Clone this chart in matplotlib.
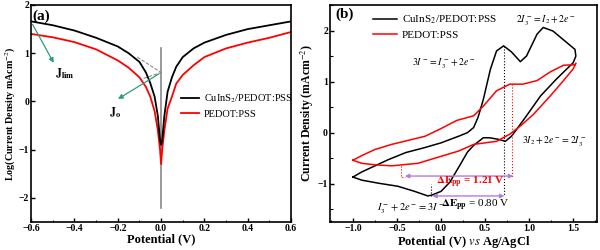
import numpy as np
import matplotlib
matplotlib.use("Agg")
import matplotlib.pyplot as plt
from matplotlib.ticker import MultipleLocator

plt.rcParams['font.family'] = ['Liberation Serif', 'DejaVu Serif']
plt.rcParams['mathtext.fontset'] = 'stix'

# ---- panel (a): Tafel curves ----
tafel_x = [-0.6, -0.5, -0.4, -0.3, -0.2, -0.15, -0.1, -0.07, -0.05, -0.03, -0.015, -0.005, 0.0,
           0.005, 0.015, 0.03, 0.05, 0.07, 0.1, 0.15, 0.2, 0.3, 0.4, 0.5, 0.6]
tafel_cuins = [1.66, 1.58, 1.47, 1.32, 1.14, 1.0, 0.82, 0.6, 0.38, 0.1, -0.3, -0.8, -0.9,
               -0.8, -0.3, 0.2, 0.5, 0.72, 0.92, 1.1, 1.22, 1.38, 1.5, 1.58, 1.66]
tafel_pedot = [1.4, 1.33, 1.23, 1.08, 0.85, 0.7, 0.5, 0.3, 0.1, -0.2, -0.6, -1.0, -1.3,
               -1.0, -0.6, -0.15, 0.1, 0.37, 0.55, 0.75, 0.92, 1.1, 1.22, 1.32, 1.44]
vert_x = [0.0, 0.0]
vert_y = [1.1, -2.2]
tangent1_x = [-0.11, 0.0]
tangent1_y = [0.92, 0.6]
tangent2_x = [-0.08, 0.0]
tangent2_y = [0.48, 0.6]

# ---- panel (b): cyclic voltammograms ----
cv_cuins_x = [-1.0, -0.9, -0.75, -0.6, -0.4, -0.2, 0.0, 0.2, 0.3, 0.37, 0.42, 0.48, 0.56, 0.63,
              0.71, 0.8, 0.9, 0.97, 1.09, 1.16, 1.27, 1.43, 1.52, 1.53,
              1.5, 1.31, 1.13, 0.97, 0.86, 0.8, 0.73, 0.65, 0.55, 0.48, 0.37, 0.3, 0.22, 0.1,
              0.0, -0.1, -0.15, -0.3, -0.49, -0.71, -0.9, -1.0]
cv_cuins_y = [-0.87, -0.77, -0.65, -0.53, -0.39, -0.3, -0.2, -0.07, 0.0, 0.1, 0.3, 0.65, 1.24, 1.6,
              1.7, 1.58, 1.39, 1.5, 1.93, 2.06, 1.99, 1.76, 1.63, 1.5,
              1.37, 1.05, 0.72, 0.33, 0.07, -0.07, -0.17, -0.13, -0.1, -0.1, -0.25, -0.38, -0.62, -0.97,
              -1.15, -1.22, -1.24, -1.15, -1.05, -0.99, -0.93, -0.87]
cv_pedot_x = [-1.0, -0.9, -0.75, -0.56, -0.37, -0.18, 0.0, 0.18, 0.37, 0.48, 0.63, 0.78, 0.93,
              1.09, 1.24, 1.39, 1.52, 1.53, 1.5, 1.39, 1.24, 1.05, 0.9, 0.78, 0.63, 0.37, 0.2,
              -0.07, -0.26, -0.56, -0.75, -0.9, -1.0]
cv_pedot_y = [-0.54, -0.45, -0.33, -0.23, -0.15, -0.07, 0.08, 0.24, 0.33, 0.52, 0.82, 0.95, 0.95,
              1.02, 1.19, 1.32, 1.33, 1.36, 1.25, 1.02, 0.72, 0.36, 0.13, -0.03, -0.17, -0.23, -0.36,
              -0.5, -0.6, -0.65, -0.63, -0.6, -0.54]

# peak markers
black_ox_x = [0.72, 0.72]
black_ox_y = [1.7, -1.24]
black_red_x = [-0.11, -0.11]
black_red_y = [-1.24, -1.0]
red_ox_x = [0.81, 0.81]
red_ox_y = [0.95, -0.86]
red_red_x = [-0.45, -0.45, -0.41]
red_red_y = [-0.65, -0.86, -0.86]
dE_red = (-0.41, 0.82, -0.85)
dE_black = (-0.1, 0.72, -1.24)

purple = '#b57be0'
green = '#2e9c82'
bold = dict(fontweight='bold')

fig = plt.figure(figsize=(6, 2.5), dpi=100)
ax1 = fig.add_axes([0.052, 0.112, 0.433, 0.868])
ax2 = fig.add_axes([0.55, 0.112, 0.445, 0.868])

# ---------- (a) ----------
ax1.plot(vert_x, vert_y, color='#888888', lw=1.2, zorder=1)
ax1.plot(tafel_x, tafel_cuins, color='black', lw=1.3, label='CuInS$_2$/PEDOT:PSS', zorder=3)
ax1.plot(tafel_x, tafel_pedot, color='red', lw=1.3, label='PEDOT:PSS', zorder=2)
ax1.plot(tangent1_x, tangent1_y, color='gray', lw=0.7, ls='--')
ax1.plot(tangent2_x, tangent2_y, color='gray', lw=0.7, ls='--')
ax1.annotate('', xy=(-0.21, 0.02), xytext=(0.0, 0.6),
             arrowprops=dict(arrowstyle='-|>', color=green, lw=0.9, mutation_scale=7))
ax1.annotate('', xy=(-0.49, 0.75), xytext=(-0.6, 1.65),
             arrowprops=dict(arrowstyle='-|>', color=green, lw=0.9, mutation_scale=7))
ax1.text(-0.24, -0.3, r'$\mathbf{J_o}$', fontsize=8.5)
ax1.text(-0.49, 0.5, r'$\mathbf{J_{lim}}$', fontsize=8.5)
ax1.text(-0.595, 1.9, '(a)', fontsize=11, va='top', **bold)
ax1.legend(loc='upper left', bbox_to_anchor=(0.555, 0.62), frameon=False, fontsize=7.5,
           handlelength=1.8, handletextpad=0.4, labelspacing=0.4, borderpad=0)
ax1.set_xlim(-0.6, 0.6)
ax1.set_ylim(-2.5, 2)
ax1.xaxis.set_major_locator(MultipleLocator(0.2))
ax1.xaxis.set_minor_locator(MultipleLocator(0.1))
ax1.yaxis.set_major_locator(MultipleLocator(1))
ax1.set_xlabel('Potential (V)', fontsize=9, labelpad=0, **bold)
ax1.set_ylabel('Log(Current Density mAcm$^{-2}$)', fontsize=7.2, **bold)
ax1.yaxis.set_label_coords(-0.05, 0.5)

# ---------- (b) ----------
ax2.plot(cv_cuins_x, cv_cuins_y, color='black', lw=1.1, label='CuInS$_2$/PEDOT:PSS')
ax2.plot(cv_pedot_x, cv_pedot_y, color='red', lw=1.1, label='PEDOT:PSS')
ax2.plot(black_ox_x, black_ox_y, color='black', lw=0.8, ls=':')
ax2.plot(black_red_x, black_red_y, color='black', lw=0.8, ls=':')
ax2.plot(red_ox_x, red_ox_y, color='red', lw=0.8, ls=':')
ax2.plot(red_red_x, red_red_y, color='red', lw=0.8, ls=':')
for x0, x1, yy in (dE_red, dE_black):
    ax2.annotate('', xy=(x0, yy), xytext=(x1, yy),
                 arrowprops=dict(arrowstyle='<|-|>', color=purple, lw=1.0, mutation_scale=6,
                                 shrinkA=0, shrinkB=0))
ax2.text(-0.06, -0.97, r'$\mathbf{\Delta E_{pp}}$ = 1.21 V', color='red', fontsize=8,
         va='center', **bold)
ax2.text(0.0, -1.42, r'$\mathbf{\Delta E_{pp}}$ = 0.80 V', color='black', fontsize=8,
         va='center')
ax2.text(-0.73, -1.48, r'$I_3^- + 2e^- = 3I^-$', fontsize=7.5, va='center')
ax2.text(0.92, -0.17, r'$3I_2 + 2e^- = 2I_3^-$', fontsize=7, va='center')
ax2.text(-0.33, 1.37, r'$3I^- = I_3^- + 2e^-$', fontsize=7, va='center')
ax2.text(0.85, 2.2, r'$2I_3^- = I_2 + 2e^-$', fontsize=7, va='center')
ax2.text(-1.2, 2.45, '(b)', fontsize=11, va='top', **bold)
ax2.legend(loc='upper left', bbox_to_anchor=(0.14, 0.985), frameon=False, fontsize=8,
           handlelength=2.2, handletextpad=0.4, labelspacing=0.35, borderpad=0)
ax2.set_xlim(-1.26, 1.77)
ax2.set_ylim(-1.75, 2.5)
ax2.xaxis.set_major_locator(MultipleLocator(0.5))
ax2.xaxis.set_minor_locator(MultipleLocator(0.25))
ax2.yaxis.set_major_locator(MultipleLocator(1))
ax2.yaxis.set_minor_locator(MultipleLocator(0.5))
ax2.set_xlabel(r'Potential (V) $\mathbf{\it{vs}}$ Ag/AgCl', fontsize=9, labelpad=1, **bold)
ax2.set_ylabel('Current Density (mAcm$^{-2}$)', fontsize=8.5, labelpad=1, **bold)

for ax in (ax1, ax2):
    for s in ax.spines.values():
        s.set_linewidth(1.2)
    ax.tick_params(which='both', direction='in', labelsize=7, pad=1.5)
    ax.tick_params(which='major', length=3, width=1)
    ax.tick_params(which='minor', length=1.8, width=0.8)
    for lab in ax.get_xticklabels() + ax.get_yticklabels():
        lab.set_fontweight('bold')

fig.savefig('out.png', dpi=100)
